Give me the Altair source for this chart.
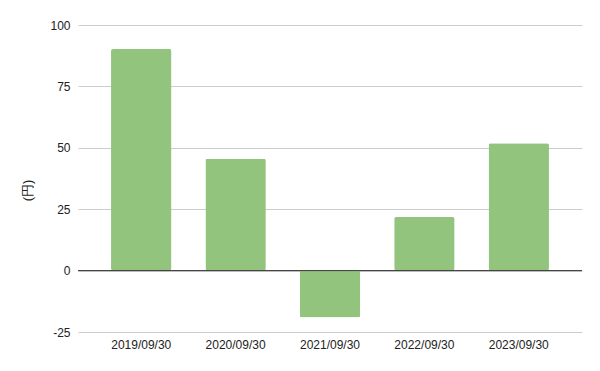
import altair as alt
import pandas as pd

categories = ["2019/09/30", "2020/09/30", "2021/09/30", "2022/09/30", "2023/09/30"]
values = [90.2, 45.5, -19.1, 21.8, 51.9]
y_ticks = [-25, 0, 25, 50, 75, 100]

df = pd.DataFrame({"date": categories, "value": values})

FONT = "Liberation Sans"

bars = alt.Chart(df).mark_bar(color="#93c47d", cornerRadius=2).encode(
    x=alt.X("date:N", sort=categories, title=None,
            scale=alt.Scale(paddingInner=0.36, paddingOuter=0.35),
            axis=alt.Axis(labelAngle=0, domain=False, ticks=False, labelPadding=7,
                          labelFont=FONT, labelFontSize=12, labelColor="#222")),
    y=alt.Y("value:Q", title="(円)",
            scale=alt.Scale(domain=[-25, 100], nice=False),
            axis=alt.Axis(values=y_ticks, domain=False, ticks=False, labelPadding=8,
                          labelExpr="replace(datum.label, '\u2212', '-')",
                          labelFont=FONT, labelFontSize=12, labelColor="#222",
                          gridColor="#cccccc", gridWidth=1,
                          titleFont=FONT, titleFontSize=13, titleColor="#222",
                          titleFontWeight="normal", titleAngle=-90,
                          titleX=-51, titleY=165, titleAlign="center",
                          titleBaseline="middle")),
)

zero = alt.Chart(pd.DataFrame({"z": [0]})).mark_rule(color="#333333", strokeWidth=1).encode(
    y="z:Q"
)

chart = (bars + zero).properties(
    width=504, height=307,
    background="white",
    autosize=alt.AutoSizeParams(type="none"),
    padding={"left": 78, "top": 25, "right": 18, "bottom": 39},
).configure_view(stroke=None)

chart.save("out.html", embed_options={"renderer": "svg", "actions": False})
